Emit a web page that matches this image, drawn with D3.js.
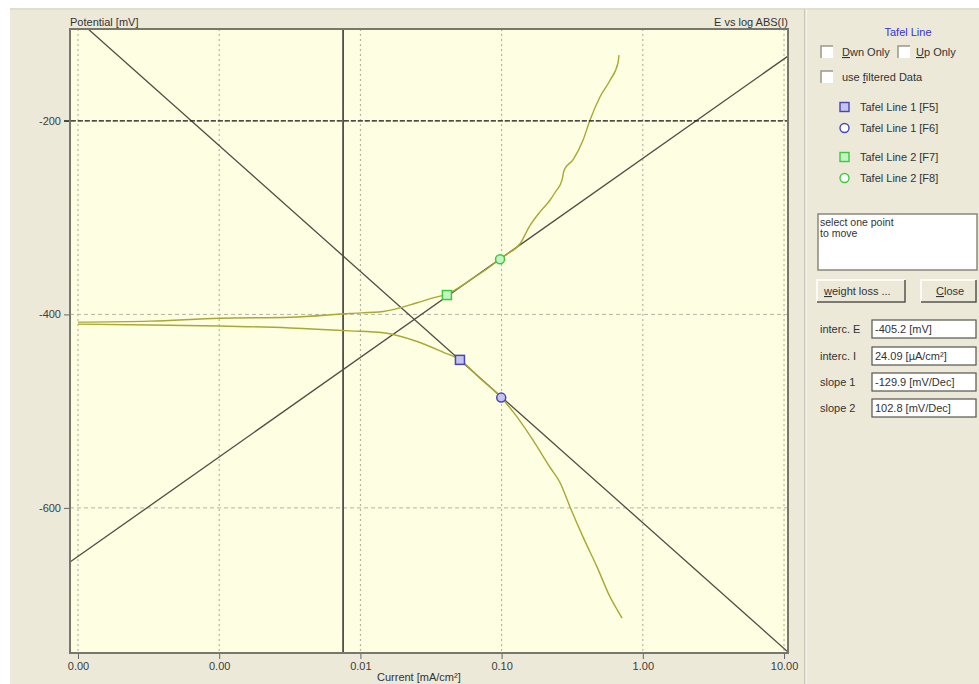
<!DOCTYPE html>
<html>
<head>
<meta charset="utf-8">
<script src="https://cdn.jsdelivr.net/npm/d3@7"></script>
<style>
body { margin: 0; background: #fff; }
svg { display: block; font-family: "Liberation Sans", Arial, sans-serif; }
</style>
</head>
<body>
<div id="chart"></div>
<script>
// values (current in mA/cm2, potential in mV)
let anodicI = [0.0001, 0.000324, 0.001, 0.00317, 0.00843, 0.0145, 0.0252, 0.0326, 0.041, 0.0594, 0.0975, 0.1057, 0.135, 0.159, 0.187, 0.220, 0.239, 0.268, 0.277, 0.321, 0.377, 0.423, 0.498, 0.586, 0.667, 0.678];
let anodicE = [-408, -407, -404, -403, -399, -397, -388, -383, -379, -365, -343, -339, -327, -308, -294, -282, -274, -261, -251, -240, -220, -199, -175, -158, -140, -132];
let cathodicI = [0.0001, 0.000324, 0.001, 0.00317, 0.00843, 0.0145, 0.0252, 0.0384, 0.0507, 0.0703, 0.0994, 0.1285, 0.1667, 0.220, 0.2596, 0.305, 0.377, 0.4738, 0.586, 0.656, 0.713];
let cathodicE = [-410, -411, -412, -414, -417, -419, -428, -439, -447, -466, -486, -506, -530, -558, -574, -599, -630, -661, -692, -705, -714];

let tafel1I = [0.000118, 10.67];
let tafel1E = [-105, -749];
let tafel2I = [0.0000878, 10.67];
let tafel2E = [-656, -133];

let markI = [0.0507, 0.0994, 0.041, 0.0975];
let markE = [-447, -486, -380, -343];
let markShape = ['square', 'circle', 'square', 'circle'];
let markColor = ['#4646b8', '#4646b8', '#3ec83e', '#3ec83e'];
let markFill = ['#c4c4ec', '#c4c4ec', '#c4f4c4', '#c4f4c4'];

let cursorI = 0.00754;
let cursorE = -200;

let xTicks = [0.0001, 0.001, 0.01, 0.1, 1, 10];
let yTicks = [-200, -400, -600];

let legendLabels = ['Tafel Line 1 [F5]', 'Tafel Line 1 [F6]', 'Tafel Line 2 [F7]', 'Tafel Line 2 [F8]'];
let fieldLabels = ['interc. E', 'interc. I', 'slope 1', 'slope 2'];
let fieldValues = ['-405.2 [mV]', '24.09 [\u00b5A/cm\u00b2]', '-129.9 [mV/Dec]', '102.8 [mV/Dec]'];

let width = 979;
let height = 684;
let pL = 70, pR = 788, pT = 29, pB = 653;

let svg = d3.select('#chart').append('svg')
    .attr('width', width)
    .attr('height', height);

// window background
svg.append('rect').attr('width', width).attr('height', height).attr('fill', '#fff');
svg.append('rect').attr('x', 10).attr('y', 8).attr('width', width - 10).attr('height', height - 8).attr('fill', '#ece9d8');
svg.append('line').attr('x1', 10).attr('x2', width).attr('y1', 9).attr('y2', 9).attr('stroke', '#d6d2c2');
svg.append('line').attr('x1', 805).attr('x2', 805).attr('y1', 9).attr('y2', height).attr('stroke', '#a8a697');
svg.append('line').attr('x1', 806).attr('x2', 806).attr('y1', 9).attr('y2', height).attr('stroke', '#fff');

let x = d3.scaleLog().domain([0.0000878, 10.67]).range([pL, pR]);
let y = d3.scaleLinear().domain([-750, -105]).range([pB, pT]);

// plot area
svg.append('rect')
    .attr('x', pL).attr('y', pT)
    .attr('width', pR - pL).attr('height', pB - pT)
    .attr('fill', '#fefee2');

svg.append('defs').append('clipPath').attr('id', 'clip')
    .append('rect').attr('x', pL).attr('y', pT)
    .attr('width', pR - pL).attr('height', pB - pT);

// grid
svg.append('g').selectAll('line').data(xTicks).join('line')
    .attr('x1', d => x(d)).attr('x2', d => x(d))
    .attr('y1', pT).attr('y2', pB)
    .attr('stroke', '#a9a99a').attr('stroke-dasharray', '2,3');
svg.append('g').selectAll('line').data(yTicks).join('line')
    .attr('x1', pL).attr('x2', pR)
    .attr('y1', d => y(d)).attr('y2', d => y(d))
    .attr('stroke', '#b4b4a6').attr('stroke-dasharray', '4,3');

// axes
let xAxis = svg.append('g')
    .attr('transform', `translate(0,${pB})`)
    .call(d3.axisBottom(x).tickValues(xTicks).tickFormat(d3.format('.2f')).tickSize(6).tickPadding(3));
let yAxis = svg.append('g')
    .attr('transform', `translate(${pL},0)`)
    .call(d3.axisLeft(y).tickValues(yTicks).tickFormat(d => String(d)).tickSize(6).tickPadding(3));
[xAxis, yAxis].forEach(a => {
    a.select('.domain').remove();
    a.selectAll('line').attr('stroke', '#666');
    a.selectAll('text').attr('fill', '#3c3c3c').style('font-size', '11px')
        .style('font-family', '"Liberation Sans", Arial, sans-serif');
});

let plot = svg.append('g').attr('clip-path', 'url(#clip)');

// cursors
plot.append('line')
    .attr('x1', x(cursorI)).attr('x2', x(cursorI))
    .attr('y1', pT).attr('y2', pB)
    .attr('stroke', '#3a3a36').attr('stroke-width', 1.6);
svg.append('line')
    .attr('x1', pL - 6).attr('x2', pR)
    .attr('y1', y(cursorE)).attr('y2', y(cursorE))
    .attr('stroke', '#1e1e1e').attr('stroke-width', 1.4).attr('stroke-dasharray', '5,2');

// tafel lines
let lineGen = d3.line().x(d => x(d[0])).y(d => y(d[1]));
[[tafel1I, tafel1E], [tafel2I, tafel2E]].forEach(t => {
    plot.append('path')
        .attr('d', lineGen(d3.zip(t[0], t[1])))
        .attr('fill', 'none').attr('stroke', '#4e4e44').attr('stroke-width', 1.3);
});

// measured branches
let curveGen = d3.line().x(d => x(d[0])).y(d => y(d[1])).curve(d3.curveMonotoneX);
[[anodicI, anodicE], [cathodicI, cathodicE]].forEach(c => {
    plot.append('path')
        .attr('d', curveGen(d3.zip(c[0], c[1])))
        .attr('fill', 'none').attr('stroke', '#a8a832').attr('stroke-width', 1.4);
});

// markers
markI.forEach((v, i) => {
    let cx = x(v), cy = y(markE[i]);
    if (markShape[i] == 'square') {
        plot.append('rect').attr('x', cx - 4.5).attr('y', cy - 4.5).attr('width', 9).attr('height', 9)
            .attr('fill', markFill[i]).attr('stroke', markColor[i]).attr('stroke-width', 1.5);
    } else {
        plot.append('circle').attr('cx', cx).attr('cy', cy).attr('r', 4.5)
            .attr('fill', markFill[i]).attr('stroke', markColor[i]).attr('stroke-width', 1.5);
    }
});

// frame
svg.append('rect')
    .attr('x', pL).attr('y', pT)
    .attr('width', pR - pL).attr('height', pB - pT)
    .attr('fill', 'none').attr('stroke', '#77776c').attr('stroke-width', 2);

// titles
let txt = (s, px, py, anchor, size, color) => svg.append('text')
    .attr('x', px).attr('y', py).attr('text-anchor', anchor || 'start')
    .style('font-size', (size || 11) + 'px').attr('fill', color || '#333')
    .text(s);
txt('Potential [mV]', pL, 26);
txt('E vs log ABS(I)', pR, 26, 'end');
txt('Current [mA/cm\u00b2]', 377, 681);

// right panel
txt('Tafel Line', 908, 36, 'middle', 11, '#3434d4');

let checkbox = (cx, cy) => {
    svg.append('rect').attr('x', cx).attr('y', cy - 6).attr('width', 12).attr('height', 12).attr('fill', '#fff');
    svg.append('path').attr('d', `M${cx},${cy + 6}V${cy - 6}H${cx + 12}`)
        .attr('fill', 'none').attr('stroke', '#9a988a').attr('stroke-width', 1.5);
};
let underlined = (parts, px, py) => {
    let t = svg.append('text').attr('x', px).attr('y', py).style('font-size', '11px').attr('fill', '#333');
    parts.forEach(p => {
        let ts = t.append('tspan').text(p[0]);
        if (p[1]) ts.style('text-decoration', 'underline');
    });
};
checkbox(821, 52);
underlined([['D', 1], ['wn Only', 0]], 842, 56);
checkbox(898, 52);
underlined([['U', 1], ['p Only', 0]], 916, 56);
checkbox(821, 77);
underlined([['use ', 0], ['f', 1], ['iltered Data', 0]], 842, 81);

let legendY = [107, 128, 157, 178];
legendLabels.forEach((s, i) => {
    if (markShape[i] == 'square') {
        svg.append('rect').attr('x', 840).attr('y', legendY[i] - 4.5).attr('width', 9).attr('height', 9)
            .attr('fill', markFill[i]).attr('stroke', markColor[i]).attr('stroke-width', 1.4);
    } else {
        svg.append('circle').attr('cx', 844.5).attr('cy', legendY[i]).attr('r', 4.5)
            .attr('fill', '#fff').attr('stroke', markColor[i]).attr('stroke-width', 1.4);
    }
    txt(s, 860, legendY[i] + 4);
});

// message box
svg.append('rect').attr('x', 818).attr('y', 214).attr('width', 159).attr('height', 56)
    .attr('fill', '#fff').attr('stroke', '#8a887c').attr('stroke-width', 1.5);
txt('select one point', 820, 226, 'start', 10.5);
txt('to move', 820, 237, 'start', 10.5);

// buttons
let button = (bx, by, bw, bh) => {
    svg.append('rect').attr('x', bx).attr('y', by).attr('width', bw).attr('height', bh).attr('fill', '#ece9d8');
    svg.append('path').attr('d', `M${bx},${by + bh}V${by}H${bx + bw}`).attr('fill', 'none').attr('stroke', '#fff').attr('stroke-width', 1.5);
    svg.append('path').attr('d', `M${bx},${by + bh}H${bx + bw}V${by}`).attr('fill', 'none').attr('stroke', '#55554e').attr('stroke-width', 1.5);
};
button(817, 280, 88, 22);
underlined([['w', 1], ['eight loss ...', 0]], 824, 295);
button(921, 280, 55, 22);
underlined([['C', 1], ['lose', 0]], 936, 295);

// result fields
let fieldY = [329, 356, 382, 408];
fieldLabels.forEach((s, i) => {
    txt(s, 820, fieldY[i] + 4);
    svg.append('rect').attr('x', 872).attr('y', fieldY[i] - 9).attr('width', 104).attr('height', 18)
        .attr('fill', '#fff').attr('stroke', '#55554e').attr('stroke-width', 1.2);
    txt(fieldValues[i], 875, fieldY[i] + 4);
});
</script>
</body>
</html>
